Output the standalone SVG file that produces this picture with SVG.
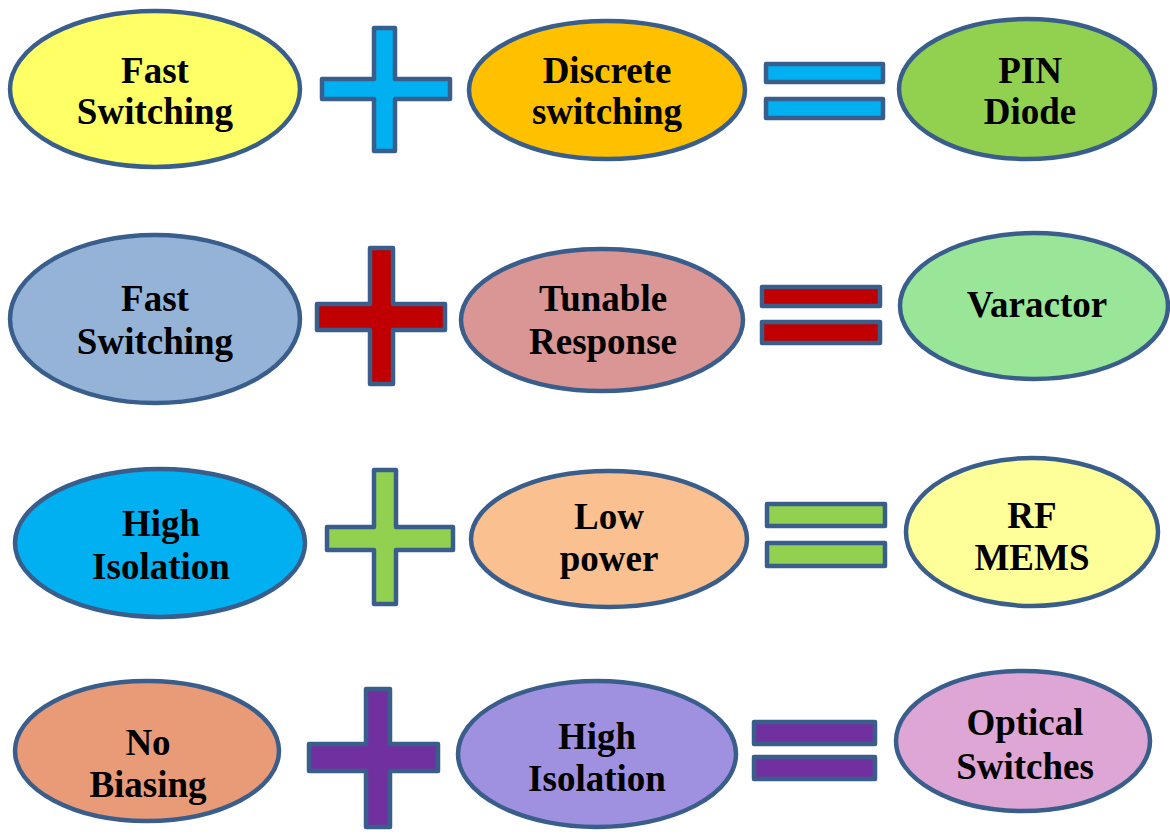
<svg xmlns="http://www.w3.org/2000/svg" width="1170" height="835" viewBox="0 0 1170 835">
<style>
.n{stroke:#3A5E8C;stroke-width:4.5}
.op{stroke:#3A5E8C;stroke-width:4.5;stroke-linejoin:round}
text{font-family:"Liberation Serif","Times New Roman",serif;font-weight:bold;font-size:37px;fill:#000;text-anchor:middle}
</style>
<rect width="1170" height="835" fill="#fff"/>
<g id="r1a"><ellipse class="n" cx="155" cy="89" rx="145" ry="78" fill="#FFFF66"/><text x="155" y="83">Fast</text><text x="155" y="124">Switching</text></g>
<g id="r1b"><ellipse class="n" cx="607" cy="90" rx="138" ry="69" fill="#FFC000"/><text x="607" y="83">Discrete</text><text x="607" y="124">switching</text></g>
<g id="r1c"><ellipse class="n" cx="1027" cy="89" rx="128" ry="70" fill="#92D050"/><text x="1030" y="83">PIN</text><text x="1030" y="124">Diode</text></g>
<g id="r2a"><ellipse class="n" cx="155" cy="319" rx="145" ry="84" fill="#95B3D7"/><text x="155" y="311">Fast</text><text x="155" y="354">Switching</text></g>
<g id="r2b"><ellipse class="n" cx="602" cy="320" rx="141" ry="71" fill="#D99694"/><text x="603" y="311">Tunable</text><text x="603" y="354">Response</text></g>
<g id="r2c"><ellipse class="n" cx="1034" cy="306" rx="134" ry="73" fill="#99E699"/><text x="1037" y="317">Varactor</text></g>
<g id="r3a"><ellipse class="n" cx="160" cy="543" rx="145" ry="74" fill="#00B0F0"/><text x="161" y="536">High</text><text x="161" y="579">Isolation</text></g>
<g id="r3b"><ellipse class="n" cx="609" cy="539" rx="138" ry="68" fill="#FAC090"/><text x="609" y="529">Low</text><text x="609" y="571">power</text></g>
<g id="r3c"><ellipse class="n" cx="1032" cy="532" rx="126" ry="74" fill="#FFFF99"/><text x="1032" y="528">RF</text><text x="1032" y="570">MEMS</text></g>
<g id="r4a"><ellipse class="n" cx="147" cy="751" rx="132" ry="70" fill="#E99B78"/><text x="148" y="755">No</text><text x="148" y="797">Biasing</text></g>
<g id="r4b"><ellipse class="n" cx="597" cy="754" rx="139" ry="73" fill="#9F91DF"/><text x="597" y="749">High</text><text x="597" y="791">Isolation</text></g>
<g id="r4c"><ellipse class="n" cx="1023" cy="741" rx="127" ry="70" fill="#DDA6D5"/><text x="1025" y="735">Optical</text><text x="1025" y="779">Switches</text></g>
<g id="operators">
<path class="op" fill="#00B0F0" d="M374 28H395V79H450V99H395V151H374V99H322V79H374Z"/>
<rect class="op" fill="#00B0F0" x="766" y="64" width="117" height="18"/>
<rect class="op" fill="#00B0F0" x="766" y="99" width="117" height="19"/>
<path class="op" fill="#C00000" d="M370 248H393V304H445V330H393V384H370V330H317V304H370Z"/>
<rect class="op" fill="#C00000" x="762" y="287" width="118" height="19"/>
<rect class="op" fill="#C00000" x="762" y="322" width="118" height="21"/>
<path class="op" fill="#92D050" d="M374 470H396V527H453V550H396V604H374V550H327V527H374Z"/>
<rect class="op" fill="#92D050" x="767" y="504" width="118" height="22"/>
<rect class="op" fill="#92D050" x="767" y="543" width="118" height="23"/>
<path class="op" fill="#7030A0" d="M366 689H390V744H438V771H390V827H366V771H309V744H366Z"/>
<rect class="op" fill="#7030A0" x="754" y="722" width="121" height="22"/>
<rect class="op" fill="#7030A0" x="754" y="757" width="121" height="22"/>
</g>
</svg>
